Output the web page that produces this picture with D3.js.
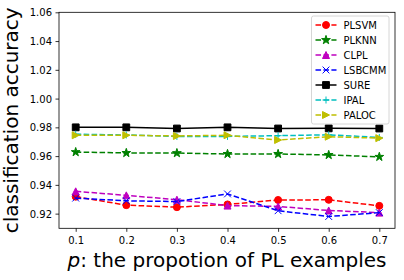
<!DOCTYPE html>
<html>
<head>
<meta charset="utf-8">
<script src="https://cdn.jsdelivr.net/npm/d3@7"></script>
<style>
  body { margin: 0; background: #fff; }
  svg text { font-family: "DejaVu Sans", sans-serif; fill: #000; }
</style>
</head>
<body>
<div id="chart"></div>
<script>
// data
var pValues = [0.1, 0.2, 0.3, 0.4, 0.5, 0.6, 0.7];
var methodNames = ["PLSVM", "PLKNN", "CLPL", "LSBCMM", "SURE", "IPAL", "PALOC"];
var plsvm  = [0.9318, 0.9259, 0.9245, 0.9264, 0.9295, 0.9296, 0.9254];
var plknn  = [0.9628, 0.9622, 0.9621, 0.9615, 0.9615, 0.9608, 0.9595];
var clpl   = [0.9355, 0.9327, 0.9297, 0.9256, 0.9250, 0.9222, 0.9207];
var lsbcmm = [0.9308, 0.9289, 0.9284, 0.9337, 0.9220, 0.9180, 0.9207];
var sure   = [0.9800, 0.9800, 0.9792, 0.9800, 0.9792, 0.9793, 0.9792];
var ipal   = [0.9752, 0.9747, 0.9737, 0.9737, 0.9742, 0.9748, 0.9730];
var paloc  = [0.9745, 0.9745, 0.9740, 0.9745, 0.9712, 0.9735, 0.9725];
var seriesValues = [plsvm, plknn, clpl, lsbcmm, sure, ipal, paloc];
var xTicks = [0.1, 0.2, 0.3, 0.4, 0.5, 0.6, 0.7];
var yTicks = [0.92, 0.94, 0.96, 0.98, 1.00, 1.02, 1.04, 1.06];

// matplotlib-like styles ("r--o", "g--*", ...)
var styles = [
  { color: "#ff0000", marker: "circle",   dashed: true },
  { color: "#008000", marker: "star",     dashed: true },
  { color: "#bf00bf", marker: "triUp",    dashed: true },
  { color: "#0000ff", marker: "cross",    dashed: true },
  { color: "#000000", marker: "square",   dashed: false },
  { color: "#00bfbf", marker: "plus",     dashed: true },
  { color: "#bfbf00", marker: "triRight", dashed: true }
];

// custom symbol types, size = half width in px
var markerTypes = {
  circle: { draw: function (c, r) { c.moveTo(r, 0); c.arc(0, 0, r, 0, 2 * Math.PI); } },
  square: { draw: function (c, r) { c.rect(-r, -r, 2 * r, 2 * r); } },
  triUp: { draw: function (c, r) { c.moveTo(0, -r); c.lineTo(r, r); c.lineTo(-r, r); c.closePath(); } },
  triRight: { draw: function (c, r) { c.moveTo(r, 0); c.lineTo(-r, r); c.lineTo(-r, -r); c.closePath(); } },
  cross: { draw: function (c, r) { c.moveTo(-r, -r); c.lineTo(r, r); c.moveTo(-r, r); c.lineTo(r, -r); } },
  plus: { draw: function (c, r) { c.moveTo(-r, 0); c.lineTo(r, 0); c.moveTo(0, -r); c.lineTo(0, r); } },
  star: { draw: function (c, r) {
    for (var i = 0; i < 10; i++) {
      var rr = i % 2 ? r * 0.381966 : r;
      var a = -Math.PI / 2 + i * Math.PI / 5;
      if (i == 0) c.moveTo(rr * Math.cos(a), rr * Math.sin(a));
      else c.lineTo(rr * Math.cos(a), rr * Math.sin(a));
    }
    c.closePath();
  } }
};
var markerSize = { circle: 3.5, square: 3.4, triUp: 3.5, triRight: 3.5, cross: 3.4, plus: 3.5, star: 4.6 };
var stroked = { cross: true, plus: true };

var width = 404, height = 280;
var margin = { top: 12.3, right: 9, bottom: 51.7, left: 59 };
var plotW = width - margin.left - margin.right,
    plotH = height - margin.top - margin.bottom;

var svg = d3.select("#chart")
    .append("svg")
    .attr("width", width)
    .attr("height", height);

var g = svg.append("g")
    .attr("transform", "translate(" + margin.left + "," + margin.top + ")");

var x = d3.scaleLinear().domain([0.067, 0.731]).range([0, plotW]);
var y = d3.scaleLinear().domain([0.9098, 1.06]).range([plotH, 0]);

// axes
var xAxis = g.append("g")
    .attr("transform", "translate(0," + plotH + ")")
    .call(d3.axisBottom(x).tickValues(xTicks).tickFormat(d3.format(".1f")).tickSizeInner(3.5).tickSizeOuter(0));
xAxis.selectAll("text").attr("font-size", "10px").attr("y", 16).attr("dy", 0);

var yAxis = g.append("g")
    .call(d3.axisLeft(y).tickValues(yTicks).tickFormat(d3.format(".2f")).tickSizeInner(3.5).tickSizeOuter(0));
yAxis.selectAll("text").attr("font-size", "10px").attr("x", -7).attr("dy", "0.36em");

g.selectAll(".domain").remove();
g.selectAll(".tick line").attr("stroke", "#000").attr("stroke-width", 0.8);

// frame
g.append("rect")
    .attr("width", plotW)
    .attr("height", plotH)
    .attr("fill", "none")
    .attr("stroke", "#000")
    .attr("stroke-width", 0.8);

// lines + markers
var line = d3.line()
    .x(function (d, i) { return x(pValues[i]); })
    .y(function (d) { return y(d); });

seriesValues.forEach(function (vals, k) {
  var s = styles[k];
  g.append("path")
      .datum(vals)
      .attr("d", line)
      .attr("fill", "none")
      .attr("stroke", s.color)
      .attr("stroke-width", 1.5)
      .attr("stroke-dasharray", s.dashed ? "5.55,2.4" : null);

  g.selectAll(".m" + k)
      .data(vals)
      .enter()
      .append("path")
      .attr("class", "m" + k)
      .attr("transform", function (d, i) { return "translate(" + x(pValues[i]) + "," + y(d) + ")"; })
      .attr("d", d3.symbol().type(markerTypes[s.marker]).size(markerSize[s.marker]))
      .attr("fill", stroked[s.marker] ? "none" : s.color)
      .attr("stroke", s.color)
      .attr("stroke-width", 1);
});

// legend
var legend = svg.append("g").attr("transform", "translate(311.5,16)");
legend.append("rect")
    .attr("width", 77.5)
    .attr("height", 108)
    .attr("rx", 2)
    .attr("fill", "#fff")
    .attr("fill-opacity", 0.8)
    .attr("stroke", "#ccc")
    .attr("stroke-width", 0.8);

methodNames.forEach(function (name, k) {
  var s = styles[k];
  var row = legend.append("g").attr("transform", "translate(0," + (9 + k * 15) + ")");
  row.append("line")
      .attr("x1", 4).attr("x2", 25)
      .attr("stroke", s.color)
      .attr("stroke-width", 1.5)
      .attr("stroke-dasharray", s.dashed ? "5.55,2.4" : null);
  row.append("path")
      .attr("transform", "translate(14.5,0)")
      .attr("d", d3.symbol().type(markerTypes[s.marker]).size(markerSize[s.marker]))
      .attr("fill", stroked[s.marker] ? "none" : s.color)
      .attr("stroke", s.color)
      .attr("stroke-width", 1);
  row.append("text")
      .attr("x", 32)
      .attr("dy", "0.36em")
      .attr("font-size", "10px")
      .text(name);
});

// axis labels
svg.append("text")
    .attr("x", margin.left + plotW / 2)
    .attr("y", 267)
    .attr("text-anchor", "middle")
    .attr("font-size", "20px")
    .html('<tspan font-style="italic">p</tspan>: the propotion of PL examples');

svg.append("text")
    .attr("transform", "translate(18," + (margin.top + plotH / 2) + ") rotate(-90)")
    .attr("text-anchor", "middle")
    .attr("font-size", "20px")
    .text("classification accuracy");
</script>
</body>
</html>
